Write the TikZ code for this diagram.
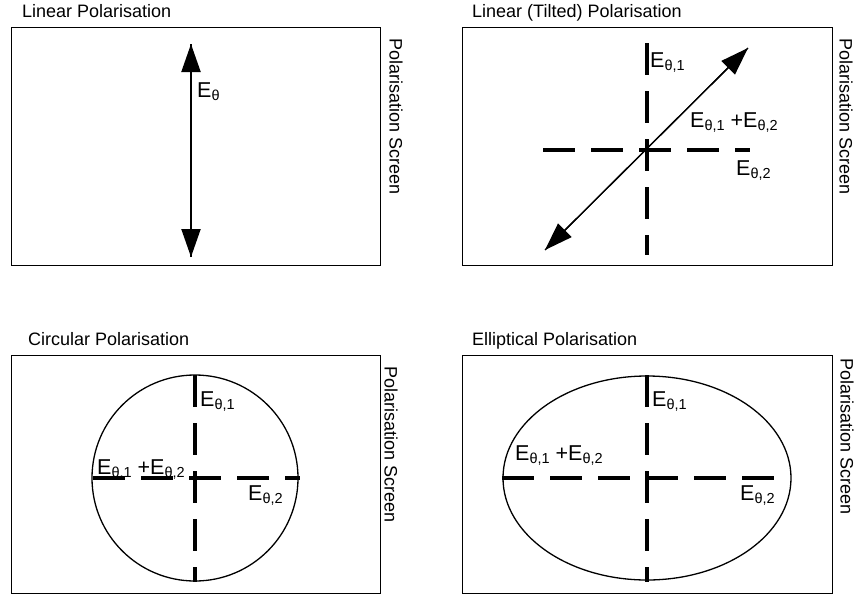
\documentclass[tikz,border=0pt]{standalone}
\usepackage{fontspec}
\setmainfont{Liberation Sans}
\usetikzlibrary{arrows.meta}

\newcommand{\Sub}[1]{\raisebox{-0.35ex}{\fontsize{14.5}{16}\selectfont #1}}
\newcommand{\Eth}[1]{E\Sub{θ#1}}

\tikzset{
  screen/.style={draw, line width=1pt},
  field/.style={line width=3.5pt, dash pattern=on 32pt off 16pt},
  tip/.style={-{Triangle[length=28pt,width=19pt]}},
  title/.style={anchor=base west, inner sep=0pt, font=\fontsize{18}{21}\selectfont},
  side/.style={rotate=-90, anchor=west, inner sep=0pt, font=\fontsize{18}{21}\selectfont},
  lbl/.style={anchor=base west, inner sep=0pt, font=\fontsize{21.5}{25}\selectfont}
}

\begin{document}
\begin{tikzpicture}[x=1pt, y=-1pt]
  \useasboundingbox[fill=white] (0,0) rectangle (862,603);

  % linear
  \node[title] (t1) at (22,17) {Linear Polarisation};
  \draw[screen] (11,27) rectangle (380,265);
  \node[side] (s1) at (396,38) {Polarisation Screen};
  \coordinate (a1) at (191,44);
  \coordinate (b1) at (191,257);
  \draw[line width=2pt, tip] (a1) -- (b1);
  \draw[line width=2pt, tip] (b1) -- (a1);
  \node[lbl] (e1) at (197,97) {\Eth{}};

  % linear (tilted)
  \node[title] (t2) at (472,17) {Linear (Tilted) Polarisation};
  \draw[screen] (462,27) rectangle (832,265);
  \node[side] (s2) at (846,38) {Polarisation Screen};
  \draw[field] (647,43) -- (647,255);
  \draw[field] (543,150) -- (750,150);
  \coordinate (a2) at (545,250);
  \coordinate (b2) at (748,48);
  \draw[line width=1.3pt, tip] (a2) -- (b2);
  \draw[line width=1.3pt, tip] (b2) -- (a2);
  \node[lbl] (e21) at (650,67) {\Eth{,1}};
  \node[lbl] (e2s) at (690,127) {\Eth{,1} +\Eth{,2}};
  \node[lbl] (e22) at (736,175) {\Eth{,2}};

  % circular
  \node[title] (t3) at (28,345) {Circular Polarisation};
  \draw[screen] (11,355) rectangle (380,593);
  \node[side] (s3) at (391,366) {Polarisation Screen};
  \draw[line width=1.3pt] (195,478) circle (103);
  \draw[field] (195,375) -- (195,582);
  \draw[field] (93,478) -- (300,478);
  \node[lbl] (e31) at (200,406) {\Eth{,1}};
  \node[lbl] (e3s) at (97,474) {\Eth{,1} +\Eth{,2}};
  \node[lbl] (e32) at (248,500) {\Eth{,2}};

  % elliptical
  \node[title] (t4) at (472,345) {Elliptical Polarisation};
  \draw[screen] (462,355) rectangle (832,593);
  \node[side] (s4) at (847,358) {Polarisation Screen};
  \draw[line width=1.3pt] (647,478) ellipse [x radius=144, y radius=102];
  \draw[field] (647,375) -- (647,582);
  \draw[field] (502,478) -- (782,478);
  \node[lbl] (e41) at (652,406) {\Eth{,1}};
  \node[lbl] (e4s) at (515,460) {\Eth{,1} +\Eth{,2}};
  \node[lbl] (e42) at (740,500) {\Eth{,2}};
\end{tikzpicture}
\end{document}
